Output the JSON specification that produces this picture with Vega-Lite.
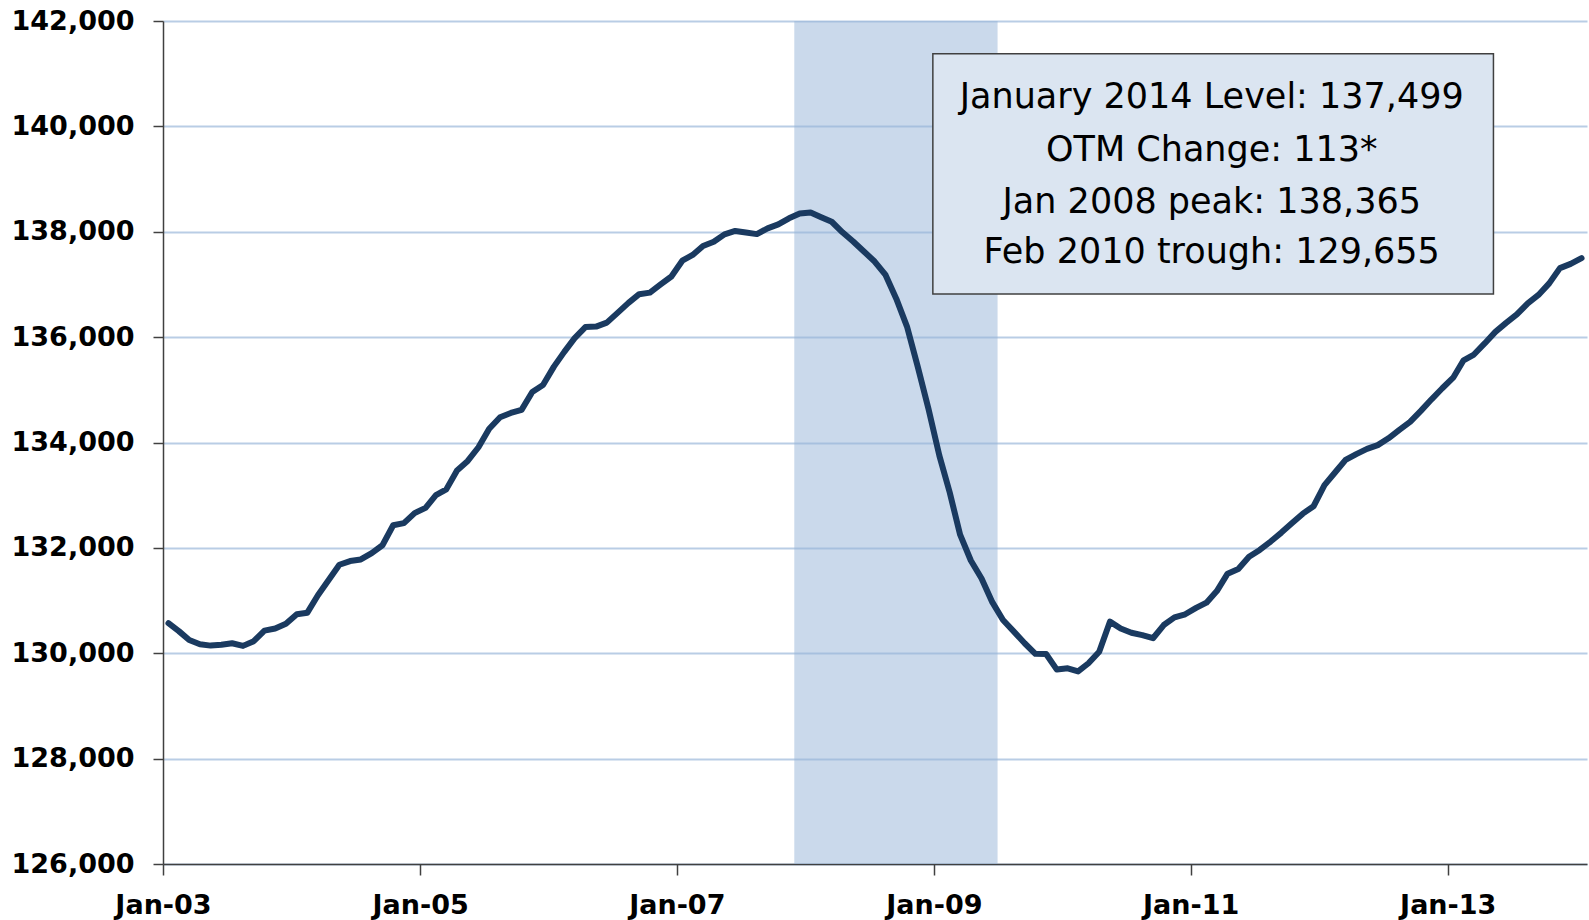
{
  "$schema": "https://vega.github.io/schema/vega-lite/v6.json",
  "width": 1424,
  "height": 843,
  "autosize": {"type": "none"},
  "padding": {"left": 163, "top": 21, "right": 2, "bottom": 56},
  "background": "white",
  "config": {"view": {"stroke": null}},
  "datasets": {
    "jobs": [
      {"d": "2003-01-01", "v": 130570}, {"d": "2003-02-01", "v": 130420}, {"d": "2003-03-01", "v": 130250}, {"d": "2003-04-01", "v": 130170},
      {"d": "2003-05-01", "v": 130145}, {"d": "2003-06-01", "v": 130160}, {"d": "2003-07-01", "v": 130190}, {"d": "2003-08-01", "v": 130140},
      {"d": "2003-09-01", "v": 130230}, {"d": "2003-10-01", "v": 130430}, {"d": "2003-11-01", "v": 130470}, {"d": "2003-12-01", "v": 130560},
      {"d": "2004-01-01", "v": 130740}, {"d": "2004-02-01", "v": 130770}, {"d": "2004-03-01", "v": 131100}, {"d": "2004-04-01", "v": 131390},
      {"d": "2004-05-01", "v": 131680}, {"d": "2004-06-01", "v": 131750}, {"d": "2004-07-01", "v": 131780}, {"d": "2004-08-01", "v": 131900},
      {"d": "2004-09-01", "v": 132050}, {"d": "2004-10-01", "v": 132430}, {"d": "2004-11-01", "v": 132470}, {"d": "2004-12-01", "v": 132660},
      {"d": "2005-01-01", "v": 132760}, {"d": "2005-02-01", "v": 133000}, {"d": "2005-03-01", "v": 133110}, {"d": "2005-04-01", "v": 133470},
      {"d": "2005-05-01", "v": 133650}, {"d": "2005-06-01", "v": 133910}, {"d": "2005-07-01", "v": 134260}, {"d": "2005-08-01", "v": 134480},
      {"d": "2005-09-01", "v": 134560}, {"d": "2005-10-01", "v": 134620}, {"d": "2005-11-01", "v": 134960}, {"d": "2005-12-01", "v": 135090},
      {"d": "2006-01-01", "v": 135440}, {"d": "2006-02-01", "v": 135720}, {"d": "2006-03-01", "v": 135980}, {"d": "2006-04-01", "v": 136190},
      {"d": "2006-05-01", "v": 136200}, {"d": "2006-06-01", "v": 136275}, {"d": "2006-07-01", "v": 136460}, {"d": "2006-08-01", "v": 136650},
      {"d": "2006-09-01", "v": 136815}, {"d": "2006-10-01", "v": 136845}, {"d": "2006-11-01", "v": 137000}, {"d": "2006-12-01", "v": 137150},
      {"d": "2007-01-01", "v": 137450}, {"d": "2007-02-01", "v": 137560}, {"d": "2007-03-01", "v": 137730}, {"d": "2007-04-01", "v": 137810},
      {"d": "2007-05-01", "v": 137950}, {"d": "2007-06-01", "v": 138015}, {"d": "2007-07-01", "v": 137985}, {"d": "2007-08-01", "v": 137955},
      {"d": "2007-09-01", "v": 138065}, {"d": "2007-10-01", "v": 138140}, {"d": "2007-11-01", "v": 138255}, {"d": "2007-12-01", "v": 138345},
      {"d": "2008-01-01", "v": 138365}, {"d": "2008-02-01", "v": 138275}, {"d": "2008-03-01", "v": 138190}, {"d": "2008-04-01", "v": 137990},
      {"d": "2008-05-01", "v": 137815}, {"d": "2008-06-01", "v": 137625}, {"d": "2008-07-01", "v": 137435}, {"d": "2008-08-01", "v": 137180},
      {"d": "2008-09-01", "v": 136730}, {"d": "2008-10-01", "v": 136200}, {"d": "2008-11-01", "v": 135440}, {"d": "2008-12-01", "v": 134640},
      {"d": "2009-01-01", "v": 133750}, {"d": "2009-02-01", "v": 133050}, {"d": "2009-03-01", "v": 132250}, {"d": "2009-04-01", "v": 131760},
      {"d": "2009-05-01", "v": 131420}, {"d": "2009-06-01", "v": 130970}, {"d": "2009-07-01", "v": 130630}, {"d": "2009-08-01", "v": 130410},
      {"d": "2009-09-01", "v": 130190}, {"d": "2009-10-01", "v": 129990}, {"d": "2009-11-01", "v": 129985}, {"d": "2009-12-01", "v": 129690},
      {"d": "2010-01-01", "v": 129715}, {"d": "2010-02-01", "v": 129655}, {"d": "2010-03-01", "v": 129810}, {"d": "2010-04-01", "v": 130030},
      {"d": "2010-05-01", "v": 130600}, {"d": "2010-06-01", "v": 130470}, {"d": "2010-07-01", "v": 130390}, {"d": "2010-08-01", "v": 130345},
      {"d": "2010-09-01", "v": 130285}, {"d": "2010-10-01", "v": 130535}, {"d": "2010-11-01", "v": 130680}, {"d": "2010-12-01", "v": 130740},
      {"d": "2011-01-01", "v": 130860}, {"d": "2011-02-01", "v": 130960}, {"d": "2011-03-01", "v": 131180}, {"d": "2011-04-01", "v": 131510},
      {"d": "2011-05-01", "v": 131600}, {"d": "2011-06-01", "v": 131830}, {"d": "2011-07-01", "v": 131960}, {"d": "2011-08-01", "v": 132120},
      {"d": "2011-09-01", "v": 132290}, {"d": "2011-10-01", "v": 132470}, {"d": "2011-11-01", "v": 132650}, {"d": "2011-12-01", "v": 132790},
      {"d": "2012-01-01", "v": 133190}, {"d": "2012-02-01", "v": 133430}, {"d": "2012-03-01", "v": 133670}, {"d": "2012-04-01", "v": 133780},
      {"d": "2012-05-01", "v": 133880}, {"d": "2012-06-01", "v": 133950}, {"d": "2012-07-01", "v": 134080}, {"d": "2012-08-01", "v": 134240},
      {"d": "2012-09-01", "v": 134390}, {"d": "2012-10-01", "v": 134600}, {"d": "2012-11-01", "v": 134820}, {"d": "2012-12-01", "v": 135030},
      {"d": "2013-01-01", "v": 135230}, {"d": "2013-02-01", "v": 135560}, {"d": "2013-03-01", "v": 135670}, {"d": "2013-04-01", "v": 135880},
      {"d": "2013-05-01", "v": 136100}, {"d": "2013-06-01", "v": 136270}, {"d": "2013-07-01", "v": 136430}, {"d": "2013-08-01", "v": 136640},
      {"d": "2013-09-01", "v": 136800}, {"d": "2013-10-01", "v": 137020}, {"d": "2013-11-01", "v": 137310}, {"d": "2013-12-01", "v": 137390},
      {"d": "2014-01-01", "v": 137499}
    ],
    "recession": [{"start": "2007-12-01", "end": "2009-07-01"}],
    "box": [{"x1": "2008-12-29", "x2": "2013-05-11", "y1": 141379, "y2": 136820}],
    "notes": [
      {"x": "2011-03-02", "y": 140557, "t": "January 2014 Level: 137,499"},
      {"x": "2011-03-02", "y": 139551, "t": "OTM Change: 113*"},
      {"x": "2011-03-02", "y": 138565, "t": "Jan 2008 peak: 138,365"},
      {"x": "2011-03-02", "y": 137616, "t": "Feb 2010 trough: 129,655"}
    ]
  },
  "layer": [
    {
      "data": {"name": "recession"},
      "mark": {"type": "rect", "fill": "#95b3d7", "opacity": 0.5},
      "encoding": {
        "x": {"field": "start", "type": "temporal",
          "scale": {"type": "utc", "domain": [{"year": 2003, "month": 1, "date": 1, "utc": true}, {"year": 2014, "month": 2, "date": 1, "utc": true}]}},
        "x2": {"field": "end"}
      }
    },
    {
      "data": {"name": "jobs"},
      "mark": {"type": "line", "stroke": "#1a3a60", "strokeWidth": 6, "strokeJoin": "round", "strokeCap": "round"},
      "encoding": {
        "x": {"field": "d", "type": "temporal", "timeUnit": "utcyearmonth", "bandPosition": 0.5,
          "axis": {
            "values": [
              {"year": 2003, "month": 1, "date": 1, "utc": true},
              {"year": 2005, "month": 1, "date": 1, "utc": true},
              {"year": 2007, "month": 1, "date": 1, "utc": true},
              {"year": 2009, "month": 1, "date": 1, "utc": true},
              {"year": 2011, "month": 1, "date": 1, "utc": true},
              {"year": 2013, "month": 1, "date": 1, "utc": true}
            ],
            "labelExpr": "utcFormat(datum.value, '%b-%y')",
            "title": null, "grid": false,
            "domainColor": "#404040", "domainWidth": 1.5,
            "tickColor": "#404040", "tickWidth": 1.5, "tickSize": 11,
            "labelFont": "DejaVu Sans", "labelFontWeight": "bold", "labelFontSize": 27,
            "labelColor": "#000000", "labelPadding": 17, "labelFlush": false, "labelOverlap": false
          }},
        "y": {"field": "v", "type": "quantitative",
          "scale": {"domain": [126000, 142000], "nice": false, "zero": false},
          "axis": {
            "values": [126000, 128000, 130000, 132000, 134000, 136000, 138000, 140000, 142000],
            "labelExpr": "format(datum.value, ',')", "title": null,
            "grid": true, "gridColor": "#b9cde5", "gridWidth": 2,
            "domainColor": "#404040", "domainWidth": 1.5,
            "tickColor": "#404040", "tickWidth": 1.5, "tickSize": 10,
            "labelFont": "DejaVu Sans", "labelFontWeight": "bold", "labelFontSize": 27,
            "labelColor": "#000000", "labelPadding": 19, "labelFlush": false, "labelOverlap": false
          }}
      }
    },
    {
      "data": {"name": "box"},
      "mark": {"type": "rect", "fill": "#dbe5f1", "stroke": "#404040", "strokeWidth": 1.5},
      "encoding": {
        "x": {"field": "x1", "type": "temporal"},
        "x2": {"field": "x2"},
        "y": {"field": "y1", "type": "quantitative"},
        "y2": {"field": "y2"}
      }
    },
    {
      "data": {"name": "notes"},
      "mark": {"type": "text", "font": "DejaVu Sans", "fontSize": 35, "color": "#000000", "align": "center", "baseline": "middle"},
      "encoding": {
        "x": {"field": "x", "type": "temporal"},
        "y": {"field": "y", "type": "quantitative"},
        "text": {"field": "t", "type": "nominal"}
      }
    }
  ]
}
